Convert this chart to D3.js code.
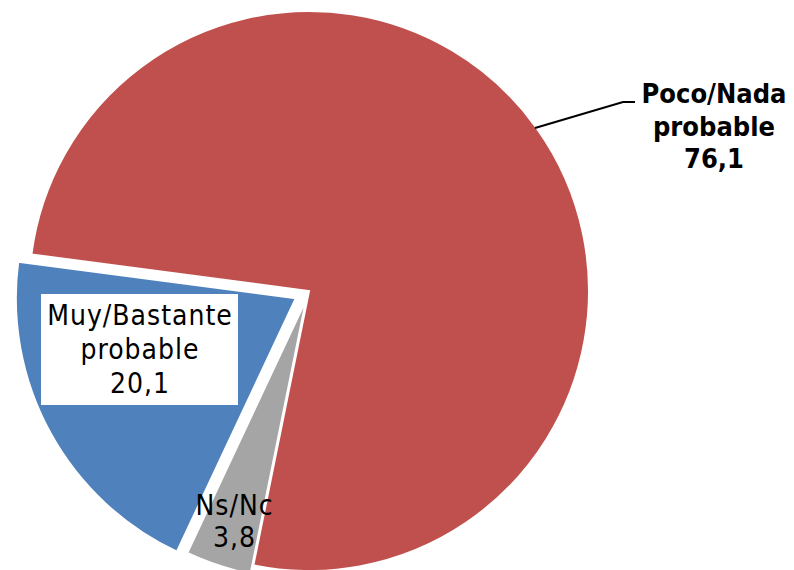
<!DOCTYPE html>
<html><head><meta charset="utf-8">
<script src="https://cdn.jsdelivr.net/npm/d3@7"></script>
<style>
html,body{margin:0;padding:0;background:#fff;}
svg{display:block;}
text{font-family:"DejaVu Sans Condensed","DejaVu Sans",sans-serif;}
</style></head>
<body>
<svg id="chart" width="794" height="570"></svg>
<script>
const categories = ["Poco/Nada probable", "Ns/Nc", "Muy/Bastante probable"];
const labelLines = [["Poco/Nada", "probable"], ["Ns/Nc"], ["Muy/Bastante", "probable"]];
const values = [76.1, 3.8, 20.1];
const valueLabels = ["76,1", "3,8", "20,1"];
const colors = ["#C0504D", "#A5A5A5", "#4F81BD"];

const svg = d3.select("#chart");
const cx = 309, cy = 291, R = 280;
const explode = [0, 9, 15];
const start = -82.5 * Math.PI / 180;

const pie = d3.pie().sort(null).value(d => d).startAngle(start).endAngle(start + 2 * Math.PI);
const arcs = pie(values);
const arc = d3.arc().innerRadius(0).outerRadius(R);

const g = svg.append("g").attr("transform", `translate(${cx},${cy})`);
g.selectAll("path").data(arcs).join("path")
  .attr("d", arc)
  .attr("fill", (d, i) => colors[i])
  .attr("stroke", "#fff")
  .attr("stroke-width", 2)
  .attr("transform", (d, i) => {
    const m = (d.startAngle + d.endAngle) / 2;
    return `translate(${explode[i] * Math.sin(m)},${-explode[i] * Math.cos(m)})`;
  });

function lines(x, y0, arr, bold, fs, lh, ls) {
  const t = svg.append("text").attr("text-anchor", "middle").attr("font-size", fs)
    .attr("font-weight", bold ? "bold" : "normal").attr("fill", "#000")
    .attr("letter-spacing", ls);
  arr.forEach((s, k) => t.append("tspan").attr("x", x + ls / 2).attr("y", y0 + k * lh).text(s));
  return t;
}
// Muy/Bastante (boxed)
svg.append("rect").attr("x", 41).attr("y", 294).attr("width", 197).attr("height", 111).attr("fill", "#fff");
lines(139.5, 325, [...labelLines[2], valueLabels[2]], false, 28, 34, 1);

// Ns/Nc
lines(234, 515, [...labelLines[1], valueLabels[1]], false, 28, 32, 1);

// Poco/Nada with leader
lines(714, 103, [...labelLines[0], valueLabels[0]], true, 27, 32.5, 0);
svg.append("polyline").attr("points", "535,128 623,102 635,102")
  .attr("fill", "none").attr("stroke", "#000").attr("stroke-width", 2);
</script>
</body></html>
